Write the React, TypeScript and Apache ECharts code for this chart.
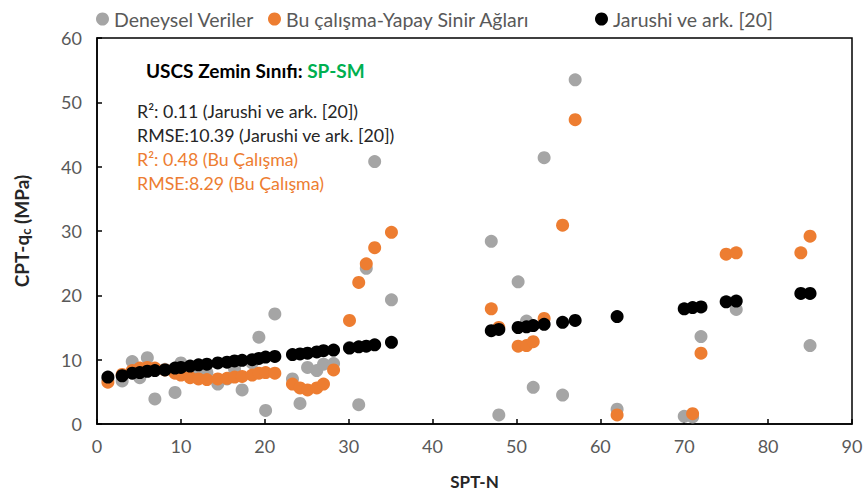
import React, { useEffect, useRef } from "react";
import * as echarts from "echarts";

const spt = [1.3, 3.0, 4.2, 5.1, 6.0, 6.9, 8.1, 9.3, 10.0, 11.1, 12.1, 13.1, 14.4, 15.5, 16.4, 17.3, 18.5, 19.3, 20.1, 21.2,
  23.3, 24.2, 25.1, 26.2, 27.0, 28.2, 30.1, 31.2, 32.1, 33.1, 35.1,
  47.0, 47.9, 50.2, 51.2, 52.0, 53.3, 55.5, 57.0, 62.0, 70.0, 71.0, 72.0, 75.0, 76.2, 83.9, 85.0];
const deneysel: (number | null)[] = [7.0, 6.7, 9.7, 7.2, 10.3, 3.9, 8.5, 4.9, 9.5, 8.8, 7.5, 8.0, 6.2, 7.0, 8.5, 5.3, 9.5, 13.5, 2.1, 17.1,
  7.0, 3.2, 8.8, 8.3, 9.3, 9.4, 11.9, 3.0, 24.2, 40.8, 19.3,
  28.4, 1.4, 22.1, 16.0, 5.7, 41.4, 4.5, 53.5, 2.3, 1.2, 1.1, 13.6, null, 17.8, null, 12.2];
const yapay: (number | null)[] = [6.5, 7.7, 8.3, 8.7, 8.8, 8.7, 8.4, 7.9, 7.6, 7.2, 7.0, 6.9, 7.0, 7.1, 7.3, 7.4, 7.6, 7.9, 8.0, 7.9,
  6.2, 5.6, 5.3, 5.6, 6.2, 8.4, 16.1, 22.0, 24.9, 27.4, 29.8,
  17.9, 15.0, 12.1, 12.2, 12.8, 16.4, 30.9, 47.3, 1.4, null, 1.6, 11.0, 26.4, 26.6, 26.6, 29.2];
const jarushi: (number | null)[] = [7.3, 7.5, 7.9, 8.0, 8.2, 8.3, 8.4, 8.7, 8.8, 9.0, 9.2, 9.3, 9.5, 9.6, 9.8, 9.9, 10.0, 10.2, 10.4, 10.5,
  10.8, 10.9, 11.0, 11.2, 11.4, 11.5, 11.8, 12.0, 12.1, 12.3, 12.7,
  14.5, 14.7, 15.0, 15.1, 15.3, 15.5, 15.8, 16.1, 16.7, 17.9, 18.1, 18.2, 19.0, 19.1, 20.3, 20.3];

const seriesNames = ["Deneysel Veriler", "Bu çalışma-Yapay Sinir Ağları", "Jarushi ve ark. [20]"];
const seriesColors = ["#A5A5A5", "#ED7D31", "#000000"];
const xTicks = { min: 0, max: 90, interval: 10 };
const yTicks = { min: 0, max: 60, interval: 10 };
const annotationLines = [
  { text: "R²: 0.11 (Jarushi ve ark. [20])", color: "#262626" },
  { text: "RMSE:10.39 (Jarushi ve ark. [20])", color: "#262626" },
  { text: "R²: 0.48 (Bu Çalışma)", color: "#ED7D31" },
  { text: "RMSE:8.29 (Bu Çalışma)", color: "#ED7D31" },
];

const FONT = "Lato, 'Open Sans', sans-serif";

export default function App() {
  const ref = useRef<HTMLDivElement>(null);
  useEffect(() => {
    document.body.style.margin = "0";
    if (!ref.current) return;
    const chart = echarts.init(ref.current, undefined, { renderer: "svg" });
    const values = [deneysel, yapay, jarushi];
    const pair = (arr: (number | null)[]) =>
      spt.map((x, i) => [x, arr[i]] as [number, number | null]).filter((p) => p[1] !== null);
    const legendLefts = [91, 263, 590];
    chart.setOption({
      animation: false,
      textStyle: { fontFamily: FONT },
      grid: { left: 97, right: 14, top: 38, bottom: 70, show: true, borderColor: "#000", borderWidth: 1.5, backgroundColor: "transparent" },
      legend: seriesNames.map((n, i) => ({
        data: [n],
        left: legendLefts[i],
        top: 4,
        icon: "circle",
        itemWidth: 13,
        itemHeight: 13,
        itemGap: 0,
        textStyle: { fontSize: 19.5, color: "#595959", fontFamily: FONT },
      })),
      xAxis: {
        type: "value",
        ...xTicks,
        name: "SPT-N",
        nameLocation: "middle",
        nameGap: 49,
        nameTextStyle: { fontSize: 17, fontWeight: "bold", color: "#262626", fontFamily: FONT },
        splitLine: { show: false },
        axisLine: { show: true, lineStyle: { color: "#000", width: 1.5 } },
        axisTick: { show: true, inside: true, length: 5, lineStyle: { color: "#000", width: 1.5 } },
        axisLabel: { fontSize: 18, color: "#595959", margin: 13, fontFamily: FONT },
      },
      yAxis: {
        type: "value",
        ...yTicks,
        name: "{a|CPT-q}{b|c}{a| (MPa)}",
        nameLocation: "middle",
        nameGap: 65,
        nameTextStyle: {
          color: "#262626",
          fontFamily: FONT,
          rich: {
            a: { fontSize: 19, fontWeight: "bold", color: "#262626", fontFamily: FONT },
            b: { fontSize: 13, fontWeight: "bold", color: "#262626", fontFamily: FONT, padding: [9, 0, 0, 0] },
          },
        },
        splitLine: { show: false },
        axisLine: { show: true, lineStyle: { color: "#000", width: 1.5 } },
        axisTick: { show: true, inside: true, length: 5, lineStyle: { color: "#000", width: 1.5 } },
        axisLabel: { fontSize: 18, color: "#595959", margin: 15, fontFamily: FONT },
      },
      series: seriesNames.map((n, i) => ({
        name: n,
        type: "scatter",
        symbol: "circle",
        symbolSize: 13,
        itemStyle: { color: seriesColors[i], opacity: 1 },
        data: pair(values[i]),
        z: 2 + i,
      })),
      graphic: [
        {
          type: "text",
          left: 146,
          top: 61,
          style: {
            text: "{a|USCS Zemin Sınıfı: }{g|SP-SM}",
            rich: {
              a: { fontSize: 19, fontWeight: "bold", fill: "#000", fontFamily: FONT },
              g: { fontSize: 19, fontWeight: "bold", fill: "#00B050", fontFamily: FONT },
            },
          },
        },
        ...annotationLines.map((l, i) => ({
          type: "text",
          left: 137,
          top: 102 + i * 24,
          style: { text: l.text, fontSize: 17.8, fill: l.color, fontFamily: FONT },
        })),
      ],
    });
    return () => chart.dispose();
  }, []);
  return <div ref={ref} style={{ width: 866, height: 495 }} />;
}
